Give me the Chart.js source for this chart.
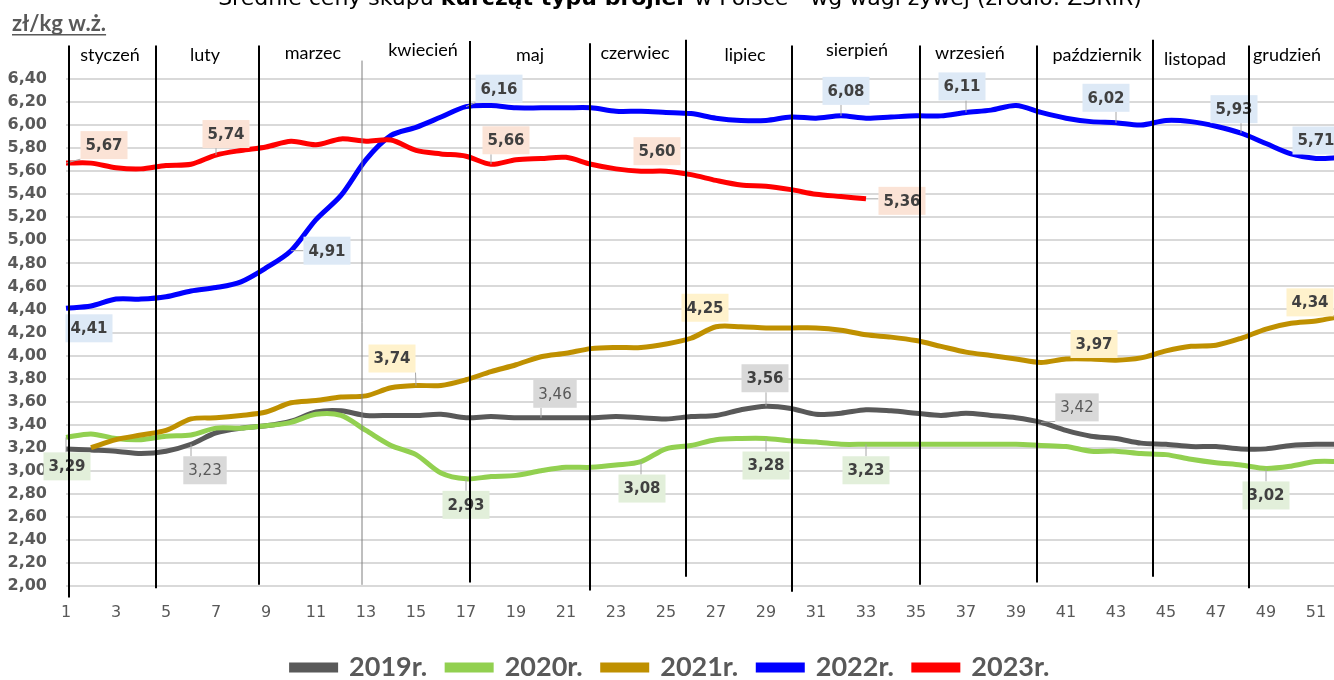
<!DOCTYPE html>
<html lang="pl">
<head>
  <meta charset="UTF-8">
  <title>Średnie ceny skupu kurcząt typu brojler</title>
  <script src="https://cdn.jsdelivr.net/npm/chart.js"></script>
  <style>
    html, body { margin: 0; padding: 0; background: #fff; overflow: hidden; }
    #wrap { position: relative; width: 1334px; height: 680px; overflow: hidden; }
    #chart { position: absolute; left: 0; top: -16px; }
  </style>
</head>
<body>
<div id="wrap"><canvas id="chart" width="1360" height="707"></canvas></div>
<script>
  // weeks of the year
  const weeks = [1, 2, 3, 4, 5, 6, 7, 8, 9, 10, 11, 12, 13, 14, 15, 16, 17, 18, 19, 20, 21, 22, 23, 24, 25, 26,
    27, 28, 29, 30, 31, 32, 33, 34, 35, 36, 37, 38, 39, 40, 41, 42, 43, 44, 45, 46, 47, 48, 49, 50, 51, 52];

  const seriesNames = ['2019r.', '2020r.', '2021r.', '2022r.', '2023r.'];

  // zł/kg live weight, weekly
  const y2019 = [3.19, 3.18, 3.17, 3.15, 3.17, 3.23, 3.33, 3.37, 3.39, 3.43, 3.51, 3.52, 3.48, 3.48, 3.48, 3.49,
    3.46, 3.47, 3.46, 3.46, 3.46, 3.46, 3.47, 3.46, 3.45, 3.47, 3.48, 3.53, 3.56, 3.54, 3.49, 3.50, 3.53, 3.52,
    3.50, 3.48, 3.50, 3.48, 3.46, 3.42, 3.35, 3.30, 3.28, 3.24, 3.23, 3.21, 3.21, 3.19, 3.19, 3.22, 3.23, 3.23];
  const y2020 = [3.29, 3.32, 3.28, 3.27, 3.30, 3.31, 3.37, 3.37, 3.39, 3.42, 3.49, 3.48, 3.35, 3.22, 3.14, 2.98,
    2.93, 2.95, 2.96, 3.00, 3.03, 3.03, 3.05, 3.08, 3.19, 3.22, 3.27, 3.28, 3.28, 3.26, 3.25, 3.23, 3.23, 3.23,
    3.23, 3.23, 3.23, 3.23, 3.23, 3.22, 3.21, 3.17, 3.17, 3.15, 3.14, 3.10, 3.07, 3.05, 3.02, 3.04, 3.08, 3.08];
  const y2021 = [null, 3.20, 3.27, 3.31, 3.35, 3.45, 3.46, 3.48, 3.51, 3.59, 3.61, 3.64, 3.65, 3.72, 3.74, 3.74,
    3.79, 3.86, 3.92, 3.99, 4.02, 4.06, 4.07, 4.07, 4.10, 4.15, 4.25, 4.25, 4.24, 4.24, 4.24, 4.22, 4.18, 4.16,
    4.13, 4.08, 4.03, 4.00, 3.97, 3.94, 3.97, 3.97, 3.96, 3.98, 4.04, 4.08, 4.09, 4.15, 4.23, 4.28, 4.30, 4.34];
  const y2022 = [4.41, 4.43, 4.49, 4.49, 4.51, 4.56, 4.59, 4.64, 4.76, 4.91, 5.18, 5.39, 5.70, 5.91, 5.98, 6.07,
    6.16, 6.17, 6.15, 6.15, 6.15, 6.15, 6.12, 6.12, 6.11, 6.10, 6.06, 6.04, 6.04, 6.07, 6.06, 6.08, 6.06, 6.07,
    6.08, 6.08, 6.11, 6.13, 6.17, 6.11, 6.06, 6.03, 6.02, 6.00, 6.04, 6.03, 5.99, 5.93, 5.84, 5.75, 5.71, 5.72];
  const y2023 = [5.67, 5.67, 5.63, 5.62, 5.65, 5.66, 5.74, 5.78, 5.81, 5.86, 5.83, 5.88, 5.86, 5.87, 5.78, 5.75,
    5.73, 5.66, 5.70, 5.71, 5.72, 5.66, 5.62, 5.60, 5.60, 5.57, 5.52, 5.48, 5.47, 5.44, 5.40, 5.38, 5.36];

  const monthNames = ['styczeń', 'luty', 'marzec', 'kwiecień', 'maj', 'czerwiec', 'lipiec', 'sierpień',
    'wrzesień', 'październik', 'listopad', 'grudzień'];

  const lineColors = ['#595959', '#92d050', '#bf9000', '#0000ff', '#ff0000'];
  const labelFills = ['#d9d9d9', '#e2efda', '#fff2cc', '#dde9f6', '#fbe3d6'];

  // which points carry a value label: [series, week, dx, dy, bold]
  const valueLabels = [
    [4, 1, 38, -18, true], [4, 7, 10, -21, true], [4, 18, 15, -24, true], [4, 25, -9, -20, true], [4, 33, 36, 2, true],
    [3, 1, 23, 20, true], [3, 10, 36, 0, true], [3, 17, 33, -18, true], [3, 32, 5, -25, true], [3, 37, -4, -26, true],
    [3, 43, -10, -25, true], [3, 48, -7, -24, true], [3, 51, 0, -18, true],
    [2, 15, -24, -27, true], [2, 27, -11, -19, true], [2, 42, 3, -15, true], [2, 52, -31, -14, true],
    [0, 6, 14, 26, false], [0, 20, 14, -24, false], [0, 29, -1, -28, true], [0, 40, 36, -15, false],
    [1, 1, 1, 29, true], [1, 17, 0, 26, true], [1, 24, 1, 27, true], [1, 29, 0, 27, true], [1, 33, 0, 26, true],
    [1, 49, 0, 27, true]
  ];

  // month separators: [week position, top (zł), bottom (zł), thin]
  const monthLines = [
    [1.12, 6.69, 1.90, false], [4.6, 6.69, 1.98, false], [8.72, 6.69, 2.01, false], [12.84, 6.56, 2.01, true],
    [17.16, 6.73, 2.03, false], [21.96, 6.71, 1.96, false], [25.8, 6.74, 2.08, false], [30.04, 6.69, 1.95, false],
    [35.16, 6.69, 2.01, false], [39.84, 6.69, 2.03, false], [44.48, 6.74, 2.08, false], [48.32, 6.69, 1.98, false]
  ];
  // month name positions: [week, zł]
  const monthPos = [[2.76, 6.61], [6.56, 6.61], [10.88, 6.62], [15.28, 6.65], [19.56, 6.61], [23.76, 6.62],
    [28.16, 6.61], [32.64, 6.65], [37.16, 6.62], [42.24, 6.61], [46.16, 6.57], [49.84, 6.61]];

  const fmt = v => v.toFixed(2).replace('.', ',');

  const decorations = {
    id: 'decorations',
    afterDatasetsDraw(chart) {
      const ctx = chart.ctx;
      const xs = chart.scales.x, ys = chart.scales.y;

      // value labels
      ctx.save();
      valueLabels.forEach(([s, wk, dx, dy, bold]) => {
        const pt = chart.getDatasetMeta(s).data[wk - 1];
        const txt = fmt(chart.data.datasets[s].data[wk - 1]);
        ctx.font = (bold ? 'bold ' : '') + '15px "DejaVu Sans"';
        const w = ctx.measureText(txt).width + 10, h = 28;
        const cx = pt.x + dx, cy = pt.y + dy;
        const bx = Math.max(cx - w / 2, Math.min(pt.x, cx + w / 2));
        const by = Math.max(cy - h / 2, Math.min(pt.y, cy + h / 2));
        if (Math.hypot(bx - pt.x, by - pt.y) > 6) {
          ctx.strokeStyle = '#a6a6a6';
          ctx.lineWidth = 1;
          ctx.beginPath();
          ctx.moveTo(pt.x, pt.y);
          ctx.lineTo(bx, by);
          ctx.stroke();
        }
        ctx.fillStyle = labelFills[s];
        ctx.fillRect(cx - w / 2, cy - h / 2, w, h);
        ctx.fillStyle = bold ? '#404040' : '#595959';
        ctx.textAlign = 'center';
        ctx.textBaseline = 'middle';
        ctx.fillText(txt, cx, cy + 1);
      });

      // month separators
      monthLines.forEach(([wk, top, bottom, thin]) => {
        const x = xs.getPixelForValue(wk - 1);
        ctx.strokeStyle = thin ? '#7f7f7f' : '#000000';
        ctx.lineWidth = thin ? 1 : 2;
        ctx.beginPath();
        ctx.moveTo(x, ys.getPixelForValue(top));
        ctx.lineTo(x, ys.getPixelForValue(bottom));
        ctx.stroke();
      });

      // month names
      ctx.font = '18px Lato';
      ctx.fillStyle = '#000000';
      ctx.textAlign = 'center';
      ctx.textBaseline = 'middle';
      monthNames.forEach((m, i) => {
        const [wk, v] = monthPos[i];
        ctx.fillText(m, xs.getPixelForValue(wk - 1), ys.getPixelForValue(v));
      });

      // title (top is cut off in the original)
      const parts = [['Średnie ceny skupu ', ''], ['kurcząt typu brojler', 'bold '], [' w Polsce - wg wagi żywej (źródło: ZSRIR)', '']];
      let total = 0;
      parts.forEach(([t, f]) => { ctx.font = f + '22px "DejaVu Sans"'; total += ctx.measureText(t).width; });
      let x = 680 - total / 2;
      ctx.textAlign = 'left';
      ctx.textBaseline = 'alphabetic';
      ctx.fillStyle = '#000000';
      parts.forEach(([t, f]) => {
        ctx.font = f + '22px "DejaVu Sans"';
        ctx.fillText(t, x, 21);
        x += ctx.measureText(t).width;
      });

      // unit
      ctx.font = 'bold 22px Lato';
      ctx.fillStyle = '#595959';
      ctx.fillText('zł/kg w.ż.', 12, 47);
      const uw = ctx.measureText('zł/kg w.ż.').width;
      ctx.fillRect(12, 50, uw, 1.5);
      ctx.restore();
    }
  };

  const series = [y2019, y2020, y2021, y2022, y2023];

  const chart = new Chart(document.getElementById('chart'), {
    type: 'line',
    data: {
      labels: weeks,
      datasets: series.map((d, i) => ({
        label: seriesNames[i],
        data: d,
        borderColor: lineColors[i],
        backgroundColor: lineColors[i],
        borderWidth: 5,
        pointRadius: 0,
        tension: 0.3,
        fill: false,
        order: 5 - i
      }))
    },
    options: {
      responsive: false,
      animation: false,
      layout: { padding: { top: 95, left: 0, right: 19, bottom: 0 } },
      plugins: {
        tooltip: { enabled: false },
        legend: {
          position: 'bottom',
          labels: {
            boxWidth: 44,
            boxHeight: 5,
            padding: 20,
            color: '#595959',
            font: { family: 'Lato', size: 27, weight: 'bold' },
            sort: (a, b) => a.datasetIndex - b.datasetIndex
          }
        }
      },
      scales: {
        x: {
          grid: { display: false },
          border: { display: false },
          afterFit: s => { s.height = 48; },
          ticks: {
            autoSkip: false,
            maxRotation: 0,
            padding: 9,
            color: '#595959',
            font: { family: 'DejaVu Sans', size: 16 },
            callback: function (v) { const w = weeks[v]; return w % 2 === 1 ? String(w) : ''; }
          }
        },
        y: {
          min: 2,
          max: 6.4,
          afterFit: s => { s.width = 66; },
          grid: { color: '#d9d9d9', lineWidth: 2, drawTicks: false },
          border: { display: false },
          ticks: {
            stepSize: 0.2,
            padding: 19,
            color: '#595959',
            font: { family: 'DejaVu Sans', size: 16, weight: 'bold' },
            callback: v => fmt(v)
          }
        }
      }
    },
    plugins: [decorations]
  });
</script>
</body>
</html>
